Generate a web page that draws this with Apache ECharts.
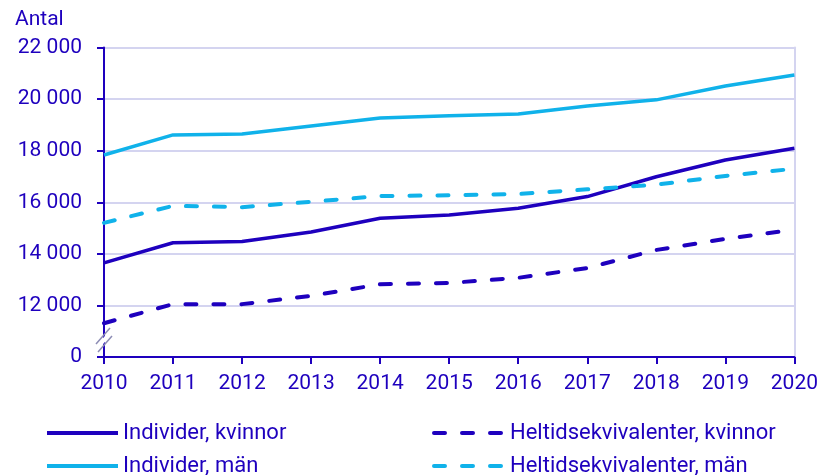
<!DOCTYPE html>
<html><head><meta charset="utf-8">
<script src="https://cdn.jsdelivr.net/npm/echarts@6/dist/echarts.min.js"></script>
<style>html,body{margin:0;padding:0;background:#fff}#c{width:821px;height:475px}</style>
</head><body><div id="c"></div>
<script>
const years = ['2010','2011','2012','2013','2014','2015','2016','2017','2018','2019','2020'];
const indKvinnor = [13650, 14430, 14480, 14850, 15380, 15510, 15770, 16220, 16990, 17640, 18090];
const indMan = [17830, 18610, 18650, 18960, 19270, 19350, 19420, 19730, 19970, 20510, 20930];
const heltKvinnor = [11310, 12050, 12050, 12370, 12820, 12870, 13070, 13450, 14150, 14580, 14940];
const heltMan = [15200, 15860, 15810, 16020, 16240, 16270, 16320, 16500, 16680, 17020, 17300];
const seriesNames = ['Individer, kvinnor', 'Heltidsekvivalenter, kvinnor', 'Individer, män', 'Heltidsekvivalenter, män'];

const DARK = '#1e00be', LIGHT = '#10b2ea', TXT = '#1e00be', GRIDC = '#d4d4f0';
const FONT = 'Roboto';
const FS = 21;
const chart = echarts.init(document.getElementById('c'), null, {renderer: 'canvas'});

function fmt(v) {
  if (v === 10000) return '0';
  return String(v).replace(/\B(?=(\d{3})+(?!\d))/g, ' ');
}
function mk(name, data, color, dashed) {
  return {
    name, type: 'line', data, symbol: 'none', showSymbol: false,
    lineStyle: Object.assign({color, width: 3.5}, dashed ? {type: [11, 17], cap: 'round', width: 4} : {}),
    itemStyle: {color},
    z: 3
  };
}
function lg(name, left, top, dashed, color) {
  return {
    data: [name], left, top, padding: 0,
    itemWidth: 71, itemHeight: 14, itemGap: 8,
    itemStyle: {opacity: 0},
    lineStyle: Object.assign({width: 4, color}, dashed ? {type: [11, 17], cap: 'round'} : {type: 'solid'}),
    textStyle: {color: TXT, fontSize: 22, fontFamily: FONT, padding: [0, 0, 0, 0]},
    selectedMode: false
  };
}
chart.setOption({
  animation: false,
  textStyle: {fontFamily: FONT},
  title: {text: 'Antal', left: 10, top: 4, textStyle: {color: TXT, fontSize: FS, fontWeight: 'normal', fontFamily: FONT}},
  grid: {left: 104, right: 26, top: 47.5, bottom: 118},
  legend: [
    lg(seriesNames[0], 45, 422, false, DARK),
    lg(seriesNames[1], 432, 422, true, DARK),
    lg(seriesNames[2], 45, 455, false, LIGHT),
    lg(seriesNames[3], 432, 455, true, LIGHT)
  ],
  xAxis: {
    type: 'category', data: years, boundaryGap: false,
    axisLine: {lineStyle: {color: DARK, width: 2}},
    axisTick: {show: true, length: 7, lineStyle: {color: DARK, width: 2}, alignWithLabel: true},
    axisLabel: {color: TXT, fontSize: FS, fontFamily: FONT, margin: 16},
    splitLine: {show: false}
  },
  yAxis: [{
    type: 'value', min: 10000, max: 22000, interval: 2000,
    axisLine: {show: true, lineStyle: {color: DARK, width: 2}},
    axisTick: {show: true, length: 7, lineStyle: {color: DARK, width: 2}},
    axisLabel: {color: TXT, fontSize: FS, fontFamily: FONT, margin: 22, formatter: fmt},
    splitLine: {show: true, lineStyle: {color: GRIDC, width: 2}}
  }, {
    type: 'value', min: 10000, max: 22000, interval: 2000, position: 'right',
    axisLine: {show: true, lineStyle: {color: GRIDC, width: 2}},
    axisTick: {show: false}, axisLabel: {show: false}, splitLine: {show: false}
  }],
  series: [
    mk(seriesNames[0], indKvinnor, DARK, false),
    mk(seriesNames[1], heltKvinnor, DARK, true),
    mk(seriesNames[2], indMan, LIGHT, false),
    mk(seriesNames[3], heltMan, LIGHT, true)
  ]
});
// axis break symbol
const p = chart.convertToPixel({xAxisIndex: 0, yAxisIndex: 0}, ['2010', 10000]);
const bx = p[0], by = p[1] - 17;
chart.setOption({graphic: [
  {type: 'polygon', z: 100, shape: {points: [[bx - 7, by + 11], [bx - 7, by + 5], [bx + 7, by - 11], [bx + 7, by - 5]]}, style: {fill: '#fff'}},
  {type: 'line', z: 101, shape: {x1: bx - 6, y1: by + 12, x2: bx + 8, y2: by - 4}, style: {stroke: '#8c8cb4', lineWidth: 1.5}},
  {type: 'line', z: 101, shape: {x1: bx - 8, y1: by + 4, x2: bx + 6, y2: by - 12}, style: {stroke: '#8c8cb4', lineWidth: 1.5}}
]});
</script></body></html>
